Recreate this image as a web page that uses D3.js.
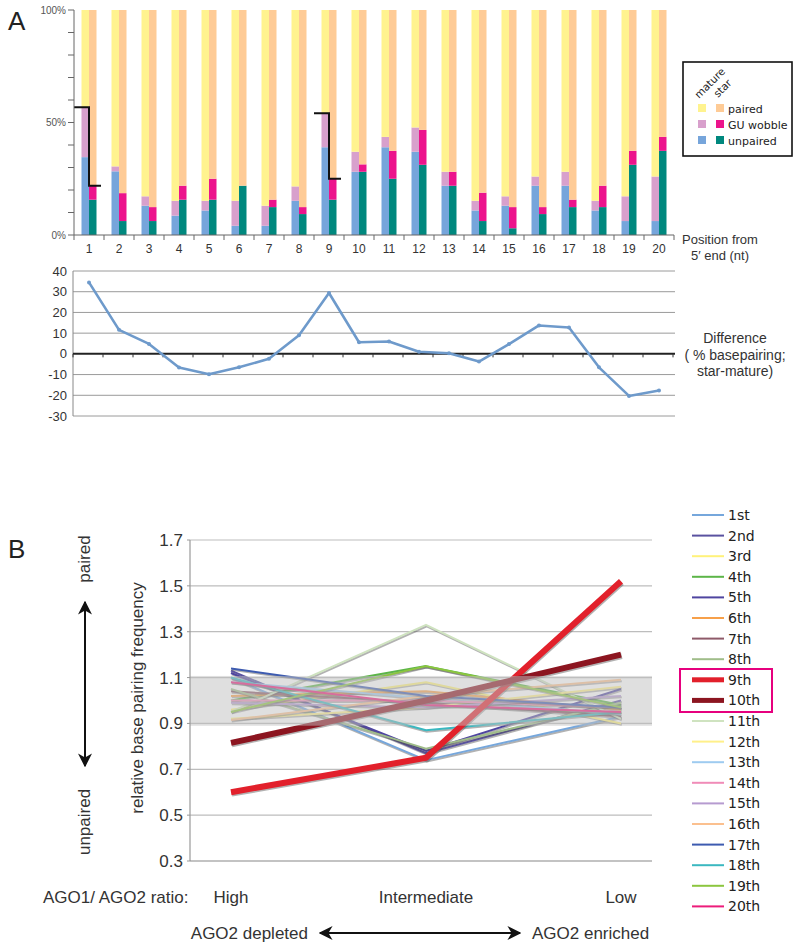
<!DOCTYPE html>
<html><head><meta charset="utf-8">
<script src="https://cdn.jsdelivr.net/npm/d3@7"></script>
<style>body{margin:0;background:#fff} svg{display:block}</style>
</head><body>
<svg id="c" width="800" height="951"></svg>
<script>
// ---------- DATA (panel A) ----------
const positions = ["1","2","3","4","5","6","7","8","9","10","11","12","13","14","15","16","17","18","19","20"];
const matureUnpaired = [34.6,28.3,13.0,8.6,10.9,4.1,4.1,15.2,39.0,28.1,39.0,37.0,21.9,10.9,13.0,21.9,21.9,10.9,6.2,6.2];
const matureGU       = [22.2,2.2,4.2,6.6,4.3,11.1,8.9,6.4,15.1,8.9,4.6,10.8,6.2,4.3,4.2,4.1,6.2,4.3,11.0,19.8];
const starUnpaired   = [15.7,6.2,6.2,15.7,15.7,21.9,12.4,9.3,15.7,28.1,25.0,31.2,21.9,6.2,3.0,9.3,12.4,12.4,31.2,37.4];
const starGU         = [6.2,12.4,6.2,6.2,9.3,0,3.3,3.1,9.3,3.3,12.4,15.5,6.2,12.6,9.4,3.1,3.3,9.5,6.2,6.2];
const pctTicks = [0,10,20,30,40,50,60,70,80,90,100];
const pctLabels = [0,50,100];
const bracketPositions = ["1","9"];
const difference = [34.5,11.6,4.8,-6.6,-9.8,-6.5,-2.4,9.0,29.4,5.6,6.0,1.0,0.3,-3.7,4.7,13.7,12.7,-6.5,-20.3,-17.7];
const diffTicks = [-30,-20,-10,0,10,20,30,40];

// ---------- DATA (panel B) ----------
const conditions = ["High","Intermediate","Low"];
const seriesNames = ["1st","2nd","3rd","4th","5th","6th","7th","8th","9th","10th","11th","12th","13th","14th","15th","16th","17th","18th","19th","20th"];
const seriesColors = ["#76a7dc","#5a52a0","#fff27a","#5cb548","#4f45a0","#f7a04a","#8e5a69","#a0bd8a","#e2202b","#8c1520","#cfe3c0","#fff08a","#9ecbf0","#f08cb8","#b69bd0","#fbc08f","#3d5bb0","#3bb8c0","#8cc63f","#ec1c7a"];
const highVals = [1.10,1.13,0.96,1.00,1.12,1.02,1.04,1.05,0.60,0.815,0.95,0.92,1.08,1.00,0.99,0.915,1.14,1.10,0.95,1.08];
const intVals  = [0.74,0.77,1.08,1.15,0.78,1.04,0.99,0.79,0.75,1.00,1.33,0.97,1.01,1.00,0.97,1.02,1.02,0.87,1.15,0.98];
const lowVals  = [0.93,1.00,0.90,0.98,1.05,0.96,0.93,0.99,1.52,1.20,0.92,1.06,0.94,0.97,1.02,1.09,0.97,0.95,0.97,0.95];
const highlighted = ["9th","10th"];
const bTicks = [0.3,0.5,0.7,0.9,1.1,1.3,1.5,1.7];
const bandRange = [0.89,1.107];

// ---------- STYLE ----------
const col = {mP:"#fff38f", mG:"#d8a0cc", mU:"#76a5db", sP:"#fecb96", sG:"#ec148c", sU:"#00887e"};
const sans = "'Liberation Sans', Arial, sans-serif";
const verd = "'DejaVu Sans', Verdana, sans-serif";

const svg = d3.select("#c");

// ================= Panel A: stacked bars =================
const yTop = d3.scaleLinear([0,100],[235,10]);
const xTop = d3.scaleBand(positions,[74,674]).paddingInner(0.5).paddingOuter(0.25);
const sub = d3.scaleBand(["mature","star"],[0,xTop.bandwidth()]);

const rows = positions.map((p,i)=>({pos:p,
  mature:{unpaired:matureUnpaired[i], gu:matureGU[i], paired:100-matureUnpaired[i]-matureGU[i]},
  star:{unpaired:starUnpaired[i], gu:starGU[i], paired:100-starUnpaired[i]-starGU[i]}}));

const keys = ["unpaired","gu","paired"];
const colorsFor = {mature:[col.mU,col.mG,col.mP], star:[col.sU,col.sG,col.sP]};
["mature","star"].forEach(kind=>{
  const st = d3.stack().keys(keys).value((d,k)=>d[kind][k])(rows);
  st.forEach((layer,li)=>{
    svg.append("g").selectAll("rect").data(layer).join("rect")
      .attr("x",d=>xTop(d.data.pos)+sub(kind))
      .attr("width",sub.bandwidth())
      .attr("y",d=>yTop(d[1]))
      .attr("height",d=>yTop(d[0])-yTop(d[1]))
      .attr("fill",colorsFor[kind][li]);
  });
});

// brackets
bracketPositions.forEach(p=>{
  const r = rows[positions.indexOf(p)];
  const mTop = r.mature.unpaired + r.mature.gu;
  const sTop = r.star.unpaired + r.star.gu;
  const x0 = xTop(p) - 7.5, xm = xTop(p)+sub("star"), x1 = xTop(p)+xTop.bandwidth()+4.5;
  svg.append("path")
    .attr("d",`M${x0},${yTop(mTop)}H${xm}V${yTop(sTop)}H${x1}`)
    .attr("fill","none").attr("stroke","#111").attr("stroke-width",2);
});

// axes
svg.append("line").attr("x1",74).attr("x2",74).attr("y1",yTop(100)).attr("y2",yTop(0)).attr("stroke","#666");
svg.append("g").selectAll("line").data(pctTicks).join("line")
  .attr("x1",68).attr("x2",74).attr("y1",d=>yTop(d)).attr("y2",d=>yTop(d)).attr("stroke","#666");
svg.append("g").selectAll("text").data(pctLabels).join("text")
  .attr("x",66).attr("y",d=>yTop(d)+3.5).attr("text-anchor","end")
  .attr("font-family",sans).attr("font-size",10).attr("fill","#555").text(d=>d+"%");
svg.append("line").attr("x1",74).attr("x2",674).attr("y1",yTop(0)).attr("y2",yTop(0)).attr("stroke","#666");
const bounds = positions.map(p=>xTop(p)-xTop.step()*0.25).concat([xTop(positions[positions.length-1])+xTop.step()*0.75]);
svg.append("g").selectAll("line").data(bounds).join("line")
  .attr("x1",d=>d).attr("x2",d=>d).attr("y1",yTop(0)).attr("y2",yTop(0)+5).attr("stroke","#666");
svg.append("g").selectAll("text").data(positions).join("text")
  .attr("x",d=>xTop(d)+xTop.bandwidth()/2).attr("y",253).attr("text-anchor","middle")
  .attr("font-family",sans).attr("font-size",12).attr("fill","#333").text(d=>d);

svg.append("text").attr("x",8).attr("y",30).attr("font-family",sans).attr("font-size",26).attr("fill","#222").text("A");

// legend A
const lg = svg.append("g");
lg.append("rect").attr("x",683).attr("y",62).attr("width",109).attr("height",94).attr("fill","#fff").attr("stroke","#111").attr("stroke-width",1.6);
lg.append("text").attr("transform","translate(699,99) rotate(-45)").attr("font-family",verd).attr("font-size",10.5).attr("fill","#222").text("mature");
lg.append("text").attr("transform","translate(718,98) rotate(-45)").attr("font-family",verd).attr("font-size",10.5).attr("fill","#222").text("star");
const legRows = [["paired",col.mP,col.sP],["GU wobble",col.mG,col.sG],["unpaired",col.mU,col.sU]];
legRows.forEach((r,i)=>{
  const cy = 108 + i*16;
  lg.append("rect").attr("x",698).attr("y",cy-4).attr("width",8).attr("height",8).attr("fill",r[1]);
  lg.append("rect").attr("x",716).attr("y",cy-4).attr("width",8).attr("height",8).attr("fill",r[2]);
  lg.append("text").attr("x",728).attr("y",cy+4.5).attr("font-family",verd).attr("font-size",11).attr("fill","#222").text(r[0]);
});

svg.append("text").attr("x",720).attr("y",244).attr("text-anchor","middle").attr("font-family",sans).attr("font-size",13).attr("fill","#333").text("Position from");
svg.append("text").attr("x",720).attr("y",260).attr("text-anchor","middle").attr("font-family",sans).attr("font-size",13).attr("fill","#333").text("5′ end (nt)");

// ================= Panel A: difference line =================
const yD = d3.scaleLinear([-30,40],[416,271]);
const cx = p=>xTop(p)+xTop.bandwidth()/2;
svg.append("g").selectAll("line").data(diffTicks.filter(d=>d!==0)).join("line")
  .attr("x1",73).attr("x2",675).attr("y1",d=>yD(d)).attr("y2",d=>yD(d)).attr("stroke","#9a9a9a").attr("stroke-width",1);
svg.append("line").attr("x1",73).attr("x2",73).attr("y1",yD(40)).attr("y2",yD(-30)).attr("stroke","#888");
svg.append("line").attr("x1",73).attr("x2",675).attr("y1",yD(0)).attr("y2",yD(0)).attr("stroke","#222").attr("stroke-width",2);
svg.append("g").selectAll("line").data(bounds).join("line")
  .attr("x1",d=>d-1).attr("x2",d=>d-1).attr("y1",yD(0)).attr("y2",yD(0)+3.5).attr("stroke","#333");
svg.append("g").selectAll("text").data(diffTicks).join("text")
  .attr("x",67).attr("y",d=>yD(d)+4.5).attr("text-anchor","end")
  .attr("font-family",sans).attr("font-size",13).attr("fill","#333").text(d=>d);
const dLine = d3.line().x((d,i)=>cx(positions[i])).y(d=>yD(d));
svg.append("path").datum(difference).attr("d",dLine).attr("fill","none").attr("stroke","#6e9acb").attr("stroke-width",2.6).attr("stroke-linejoin","round");
svg.append("g").selectAll("circle").data(difference).join("circle")
  .attr("cx",(d,i)=>cx(positions[i])).attr("cy",d=>yD(d)).attr("r",2).attr("fill","#6e9acb");
[["Difference",343],["( % basepairing;",360],["star-mature)",376]].forEach(t=>{
  svg.append("text").attr("x",735).attr("y",t[1]).attr("text-anchor","middle").attr("font-family",sans).attr("font-size",14).attr("fill","#333").text(t[0]);
});

// ================= Panel B =================
const yB = d3.scaleLinear([0.3,1.7],[861,540]);
const xB = d3.scalePoint(conditions,[231,621]);
const bx0 = 190, bx1 = 652;

svg.append("g").selectAll("line").data(bTicks.slice(1)).join("line")
  .attr("x1",bx0).attr("x2",bx1).attr("y1",d=>yB(d)).attr("y2",d=>yB(d)).attr("stroke","#bdbdbd").attr("stroke-width",1.2);

const series = seriesNames.map((n,i)=>({name:n,color:seriesColors[i],thick:highlighted.includes(n),
  vals:[highVals[i],intVals[i],lowVals[i]]}));
const bLine = d3.line().x((d,i)=>xB(conditions[i])).y(d=>yB(d));
const ordered = series.filter(s=>!s.thick).concat(series.filter(s=>s.thick));
const lg2 = svg.append("g");
ordered.forEach(s=>{
  const w = s.thick ? 6 : 2;
  lg2.append("path").datum(s.vals).attr("d",bLine).attr("fill","none")
    .attr("stroke","#555").attr("stroke-opacity",0.45).attr("stroke-width",w)
    .attr("transform","translate(0.8,1.4)").attr("stroke-linejoin","round");
  lg2.append("path").datum(s.vals).attr("d",bLine).attr("fill","none")
    .attr("stroke",s.color).attr("stroke-width",w).attr("stroke-linejoin","round");
});
// translucent grey band
svg.append("rect").attr("x",bx0).attr("width",bx1-bx0)
  .attr("y",yB(bandRange[1])).attr("height",yB(bandRange[0])-yB(bandRange[1]))
  .attr("fill","#c0c0c0").attr("fill-opacity",0.5);

svg.append("line").attr("x1",bx0).attr("x2",bx0).attr("y1",yB(1.7)).attr("y2",yB(0.3)).attr("stroke","#999").attr("stroke-width",1.2);
svg.append("line").attr("x1",bx0).attr("x2",bx1).attr("y1",yB(0.3)).attr("y2",yB(0.3)).attr("stroke","#888").attr("stroke-width",1.2);
svg.append("g").selectAll("line").data(bTicks).join("line")
  .attr("x1",bx0-3).attr("x2",bx0).attr("y1",d=>yB(d)).attr("y2",d=>yB(d)).attr("stroke","#999");
svg.append("g").selectAll("text").data(bTicks).join("text")
  .attr("x",183).attr("y",d=>yB(d)+6).attr("text-anchor","end")
  .attr("font-family",sans).attr("font-size",17).attr("fill","#333").text(d=>d.toFixed(1));

svg.append("text").attr("transform","translate(143,698) rotate(-90)").attr("text-anchor","middle")
  .attr("font-family",sans).attr("font-size",17).attr("fill","#333").text("relative base pairing frequency");
svg.append("text").attr("x",8).attr("y",558).attr("font-family",sans).attr("font-size",26).attr("fill","#222").text("B");

svg.append("text").attr("transform","translate(90,559) rotate(-90)").attr("text-anchor","middle")
  .attr("font-family",sans).attr("font-size",17).attr("fill","#333").text("paired");
svg.append("text").attr("transform","translate(90,822) rotate(-90)").attr("text-anchor","middle")
  .attr("font-family",sans).attr("font-size",17).attr("fill","#333").text("unpaired");

// arrows
const defs = svg.append("defs");
defs.append("marker").attr("id","ah").attr("viewBox","0 0 10 10").attr("refX",9).attr("refY",5)
  .attr("markerWidth",7).attr("markerHeight",7).attr("orient","auto-start-reverse").attr("markerUnits","strokeWidth")
  .append("path").attr("d","M0,0L10,5L0,10L3,5Z").attr("fill","#111");
svg.append("line").attr("x1",85).attr("x2",85).attr("y1",602).attr("y2",766)
  .attr("stroke","#111").attr("stroke-width",2).attr("marker-start","url(#ah)").attr("marker-end","url(#ah)");
svg.append("line").attr("x1",320).attr("x2",520).attr("y1",933).attr("y2",933)
  .attr("stroke","#111").attr("stroke-width",2).attr("marker-start","url(#ah)").attr("marker-end","url(#ah)");

svg.append("text").attr("x",43).attr("y",903).attr("font-family",sans).attr("font-size",17).attr("fill","#333").text("AGO1/ AGO2 ratio:");
svg.append("g").selectAll("text").data(conditions).join("text")
  .attr("x",d=>xB(d)).attr("y",903).attr("text-anchor","middle")
  .attr("font-family",sans).attr("font-size",17).attr("fill","#333").text(d=>d);
svg.append("text").attr("x",308).attr("y",939).attr("text-anchor","end").attr("font-family",sans).attr("font-size",17).attr("fill","#333").text("AGO2 depleted");
svg.append("text").attr("x",532).attr("y",939).attr("font-family",sans).attr("font-size",17).attr("fill","#333").text("AGO2 enriched");

// legend B
const lg3 = svg.append("g");
series.forEach((s,i)=>{
  const y = 515 + i*20.6;
  lg3.append("line").attr("x1",692).attr("x2",724).attr("y1",y).attr("y2",y)
    .attr("stroke",s.color).attr("stroke-width",s.thick?5:2);
  lg3.append("text").attr("x",728).attr("y",y+5).attr("font-family",verd).attr("font-size",14).attr("fill","#222").text(s.name);
});
lg3.append("rect").attr("x",680).attr("y",669).attr("width",92).attr("height",43)
  .attr("fill","none").attr("stroke","#e6007e").attr("stroke-width",2);
</script>
</body></html>
